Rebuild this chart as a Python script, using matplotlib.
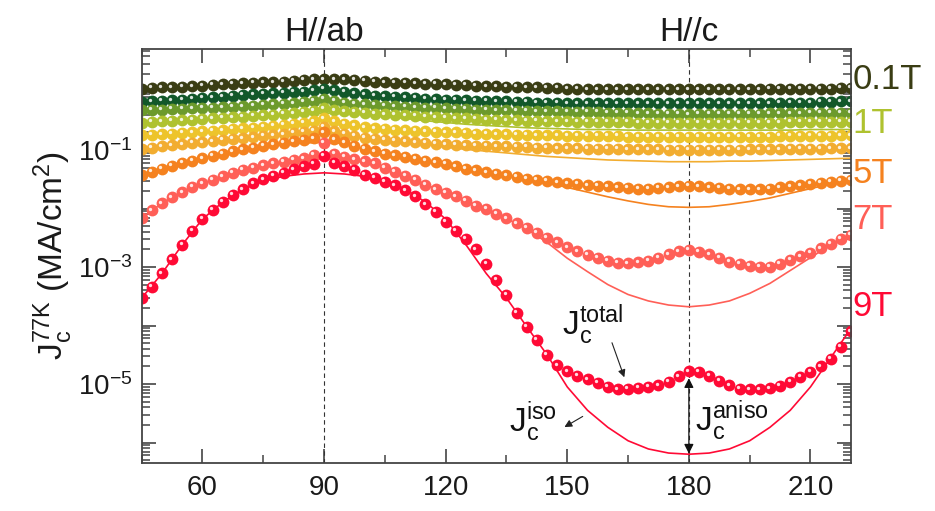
import numpy as np
import matplotlib
matplotlib.use("Agg")
import matplotlib.pyplot as plt
import matplotlib.transforms as mtransforms
from matplotlib.ticker import FixedLocator, FuncFormatter, NullFormatter

plt.rcParams['font.family'] = ['Liberation Sans', 'DejaVu Sans']
plt.rcParams['mathtext.fontset'] = 'custom'
plt.rcParams['mathtext.rm'] = 'Liberation Sans'
plt.rcParams['mathtext.it'] = 'Liberation Sans:italic'
plt.rcParams['mathtext.bf'] = 'Liberation Sans:bold'

# ---------------- data (log10 of Jc in MA/cm^2) ----------------
angles = np.arange(45, 220.1, 2.5)       # measured angles (deg), 71 points
fit_angles = np.arange(45, 220.1, 5.0)   # angles of the Jc_iso fit curves

fields = ['0.1T', '0.3T', '0.5T', '1T', '2T', '3T', '5T', '7T', '9T']
colors = ['#3a3d14', '#12582a', '#6c9a2c', '#afc22f', '#edc42b',
          '#f2ad30', '#f5821f', '#ff5f57', '#ff0a35']
shown_labels = {'0.1T': 0.20, '1T': -0.55, '5T': -1.40, '7T': -2.19, '9T': -3.68}

log_jc_01T = [0.05, 0.06, 0.07, 0.07, 0.08, 0.09, 0.10, 0.11, 0.12, 0.13, 0.14, 0.15, 0.16, 0.16, 0.17, 0.18, 0.20, 0.21,
              0.21, 0.21, 0.21, 0.20, 0.18, 0.17, 0.16, 0.15, 0.15, 0.14, 0.13, 0.13, 0.12,
              0.11, 0.11, 0.10, 0.09, 0.09, 0.08, 0.08, 0.07, 0.07, 0.06, 0.06, 0.05,
              0.05, 0.04, 0.04, 0.04, 0.04, 0.04, 0.04, 0.04, 0.04, 0.04, 0.04, 0.04,
              0.04, 0.04, 0.04, 0.04, 0.04, 0.04, 0.04, 0.05, 0.05, 0.05, 0.05, 0.05, 0.05, 0.05, 0.06, 0.06]
log_jc_03T = [-0.18, -0.17, -0.16, -0.15, -0.14, -0.12, -0.11, -0.10, -0.09, -0.07, -0.06, -0.05, -0.04, -0.03, -0.02, -0.01, 0.00, 0.02,
              0.05, 0.02, 0.00, -0.03, -0.05, -0.07, -0.08, -0.09, -0.10, -0.11, -0.12, -0.13, -0.14,
              -0.14, -0.15, -0.16, -0.16, -0.17, -0.17, -0.18, -0.18, -0.19, -0.19, -0.19, -0.20,
              -0.20, -0.20, -0.20, -0.20, -0.20, -0.20, -0.20, -0.20, -0.20, -0.20, -0.20, -0.20,
              -0.20, -0.20, -0.20, -0.20, -0.20, -0.20, -0.20, -0.20, -0.19, -0.19, -0.19, -0.19, -0.18, -0.18, -0.17, -0.17]
log_jc_05T = [-0.32, -0.31, -0.31, -0.30, -0.30, -0.29, -0.28, -0.28, -0.27, -0.26, -0.25, -0.24, -0.23, -0.22, -0.21, -0.20, -0.18, -0.16,
              -0.12, -0.16, -0.19, -0.21, -0.22, -0.23, -0.24, -0.25, -0.26, -0.27, -0.28, -0.28, -0.29,
              -0.30, -0.30, -0.31, -0.31, -0.32, -0.32, -0.33, -0.33, -0.34, -0.34, -0.34, -0.35,
              -0.35, -0.35, -0.35, -0.36, -0.36, -0.36, -0.37, -0.37, -0.38, -0.38, -0.38, -0.39,
              -0.38, -0.38, -0.38, -0.38, -0.38, -0.38, -0.38, -0.37, -0.37, -0.37, -0.37, -0.36, -0.36, -0.36, -0.36, -0.36]
log_jc_1T = [-0.53, -0.52, -0.51, -0.50, -0.49, -0.48, -0.47, -0.46, -0.45, -0.44, -0.43, -0.42, -0.41, -0.40, -0.38, -0.37, -0.35, -0.33,
             -0.29, -0.32, -0.34, -0.35, -0.36, -0.38, -0.39, -0.40, -0.41, -0.42, -0.43, -0.44, -0.45,
             -0.46, -0.46, -0.47, -0.48, -0.48, -0.49, -0.49, -0.50, -0.50, -0.51, -0.51, -0.51,
             -0.52, -0.52, -0.52, -0.52, -0.52, -0.52, -0.53, -0.53, -0.53, -0.53, -0.53, -0.53,
             -0.53, -0.53, -0.53, -0.53, -0.53, -0.53, -0.53, -0.53, -0.53, -0.52, -0.52, -0.52, -0.52, -0.52, -0.52, -0.52]
log_jc_2T = [-0.75, -0.74, -0.73, -0.72, -0.71, -0.70, -0.68, -0.67, -0.66, -0.64, -0.63, -0.62, -0.60, -0.59, -0.57, -0.55, -0.53, -0.51,
             -0.46, -0.51, -0.55, -0.58, -0.61, -0.63, -0.64, -0.65, -0.66, -0.67, -0.68, -0.69, -0.70,
             -0.70, -0.71, -0.72, -0.72, -0.73, -0.73, -0.74, -0.74, -0.75, -0.75, -0.75, -0.76,
             -0.76, -0.76, -0.76, -0.76, -0.76, -0.77, -0.77, -0.77, -0.77, -0.77, -0.77, -0.77,
             -0.77, -0.77, -0.77, -0.77, -0.77, -0.77, -0.77, -0.77, -0.76, -0.76, -0.76, -0.76, -0.76, -0.76, -0.75, -0.75]
log_jc_3T = [-0.98, -0.96, -0.94, -0.92, -0.90, -0.88, -0.87, -0.85, -0.83, -0.81, -0.80, -0.78, -0.76, -0.75, -0.73, -0.71, -0.69, -0.67,
             -0.60, -0.68, -0.72, -0.76, -0.79, -0.81, -0.83, -0.84, -0.85, -0.87, -0.88, -0.89, -0.90,
             -0.91, -0.92, -0.93, -0.93, -0.94, -0.94, -0.95, -0.95, -0.96, -0.96, -0.97, -0.97,
             -0.97, -0.98, -0.98, -0.98, -0.98, -0.99, -0.99, -0.99, -0.99, -1.00, -1.00, -1.00,
             -1.00, -1.00, -1.00, -1.00, -1.00, -0.99, -0.99, -0.99, -0.99, -0.98, -0.98, -0.98, -0.98, -0.97, -0.97, -0.97]
log_jc_5T = [-1.42, -1.37, -1.32, -1.27, -1.22, -1.18, -1.14, -1.10, -1.06, -1.02, -0.99, -0.96, -0.93, -0.90, -0.88, -0.85, -0.83, -0.80,
             -0.70, -0.82, -0.87, -0.93, -0.98, -1.02, -1.06, -1.09, -1.12, -1.15, -1.18, -1.21, -1.24,
             -1.28, -1.32, -1.35, -1.38, -1.41, -1.43, -1.46, -1.49, -1.51, -1.53, -1.55, -1.57,
             -1.58, -1.60, -1.61, -1.62, -1.64, -1.65, -1.66, -1.66, -1.65, -1.64, -1.62, -1.61,
             -1.62, -1.64, -1.65, -1.66, -1.67, -1.67, -1.67, -1.66, -1.64, -1.62, -1.60, -1.58, -1.56, -1.54, -1.53, -1.51]
log_jc_7T = [-2.16, -2.03, -1.91, -1.81, -1.72, -1.63, -1.57, -1.51, -1.45, -1.39, -1.34, -1.30, -1.26, -1.23, -1.20, -1.17, -1.14, -1.08,
             -0.88, -1.06, -1.12, -1.16, -1.19, -1.23, -1.30, -1.37, -1.44, -1.51, -1.59, -1.67, -1.73,
             -1.79, -1.87, -1.95, -2.01, -2.09, -2.17, -2.25, -2.33, -2.42, -2.50, -2.58, -2.66,
             -2.73, -2.79, -2.84, -2.89, -2.93, -2.94, -2.92, -2.89, -2.84, -2.78, -2.73, -2.71,
             -2.74, -2.78, -2.84, -2.91, -2.95, -2.98, -3.00, -3.00, -2.95, -2.88, -2.82, -2.76, -2.68, -2.60, -2.52, -2.45]
log_jc_9T = [-3.53, -3.34, -3.11, -2.87, -2.62, -2.38, -2.18, -2.02, -1.89, -1.77, -1.67, -1.57, -1.50, -1.44, -1.39, -1.33, -1.28, -1.24,
             -1.10, -1.22, -1.28, -1.34, -1.42, -1.48, -1.54, -1.60, -1.69, -1.79, -1.93, -2.06, -2.23,
             -2.38, -2.52, -2.70, -2.95, -3.22, -3.48, -3.78, -4.02, -4.24, -4.50, -4.68, -4.78,
             -4.86, -4.92, -4.98, -5.05, -5.09, -5.08, -5.06, -5.05, -5.02, -4.96, -4.87, -4.78,
             -4.79, -4.86, -4.94, -5.02, -5.08, -5.09, -5.09, -5.07, -5.03, -4.96, -4.88, -4.79, -4.70, -4.57, -4.36, -4.10]

# Jc_iso fits (solid lines), 36 points each
log_iso_1T = [-0.53, -0.51, -0.49, -0.47, -0.45, -0.43, -0.41, -0.39, -0.38, -0.37, -0.38, -0.40, -0.43, -0.46, -0.50, -0.53,
              -0.56, -0.58, -0.60, -0.62, -0.63, -0.64, -0.65, -0.65, -0.66, -0.66, -0.66, -0.66, -0.66, -0.66, -0.66, -0.66,
              -0.66, -0.65, -0.65, -0.65]
log_iso_3T = [-0.98, -0.94, -0.90, -0.87, -0.83, -0.80, -0.77, -0.75, -0.74, -0.73, -0.74, -0.79, -0.83, -0.86, -0.90, -0.95,
              -0.99, -1.02, -1.05, -1.08, -1.11, -1.13, -1.15, -1.17, -1.18, -1.19, -1.20, -1.20, -1.20, -1.19, -1.19, -1.18,
              -1.17, -1.16, -1.15, -1.14]
log_iso_5T = [-1.42, -1.32, -1.22, -1.14, -1.06, -0.99, -0.94, -0.90, -0.88, -0.87, -0.89, -0.98, -1.06, -1.12, -1.18, -1.24,
              -1.32, -1.38, -1.43, -1.50, -1.56, -1.64, -1.72, -1.80, -1.87, -1.93, -1.97, -1.98, -1.97, -1.93, -1.88, -1.82,
              -1.74, -1.66, -1.58, -1.51]
log_iso_7T = [-2.16, -1.91, -1.72, -1.57, -1.45, -1.35, -1.27, -1.21, -1.17, -1.15, -1.17, -1.21, -1.30, -1.44, -1.59, -1.73,
              -1.87, -2.01, -2.17, -2.35, -2.58, -2.85, -3.08, -3.30, -3.47, -3.58, -3.65, -3.68, -3.65, -3.58, -3.45, -3.28,
              -3.06, -2.84, -2.62, -2.45]
log_iso_9T = [-3.53, -3.11, -2.62, -2.18, -1.89, -1.67, -1.53, -1.45, -1.41, -1.39, -1.41, -1.45, -1.53, -1.67, -1.89, -2.18,
              -2.62, -3.11, -3.53, -4.02, -4.50, -5.05, -5.45, -5.74, -5.97, -6.11, -6.18, -6.20, -6.18, -6.11, -5.97, -5.74,
              -5.45, -5.05, -4.55, -4.05]

series = [log_jc_01T, log_jc_03T, log_jc_05T, log_jc_1T, log_jc_2T, log_jc_3T, log_jc_5T, log_jc_7T, log_jc_9T]
fits = {'1T': log_iso_1T, '3T': log_iso_3T, '5T': log_iso_5T, '7T': log_iso_7T, '9T': log_iso_9T}

# ---------------- figure ----------------
fig = plt.figure(figsize=(9.35, 5.11), dpi=100)
ax = fig.add_axes([141.7 / 935, (511 - 462.7) / 511, (851 - 141.7) / 935, (462.7 - 49) / 511])
ax.set_yscale('log')
ax.set_xlim(45, 220)
ax.set_ylim(10 ** -6.345, 10 ** 0.7265)

hl = mtransforms.offset_copy(ax.transData, fig=fig, x=-1.6, y=1.6, units='dots')
for k, (f, c, vals) in enumerate(zip(fields, colors, series)):
    z = 3 + k
    if f in fits:
        ax.plot(fit_angles, 10 ** np.array(fits[f]), '-', color=c, lw=1.2, zorder=z)
    ax.plot(angles, 10 ** np.array(vals), 'o', ms=8.5, color=c, mew=0, zorder=z + 0.2)
    ax.plot(angles, 10 ** np.array(vals), 'o', ms=2.4, color='white', mew=0, alpha=0.85,
            zorder=z + 0.3, transform=hl)

for xv in (90, 180):
    ax.axvline(xv, color='#333333', lw=0.8, ls=(0, (4, 3)), zorder=2)

# axes styling
for sp in ax.spines.values():
    sp.set_color('#444444')
    sp.set_linewidth(1.3)
    sp.set_zorder(30)
ax.xaxis.set_major_locator(FixedLocator([60, 90, 120, 150, 180, 210]))
ax.xaxis.set_minor_locator(FixedLocator([45, 75, 105, 135, 165, 195]))
decades = list(range(-7, 2))
ax.yaxis.set_major_locator(FixedLocator([10.0 ** e for e in decades]))
ax.yaxis.set_minor_locator(FixedLocator([m * 10.0 ** e for e in decades for m in range(2, 10)]))
ax.yaxis.set_minor_formatter(NullFormatter())


def yfmt(v, pos):
    e = int(round(np.log10(v)))
    if e in (-1, -3, -5):
        return r'$\mathregular{10^{%d}}$' % e
    return ''


ax.yaxis.set_major_formatter(FuncFormatter(yfmt))
ax.tick_params(which='both', direction='in', top=True, right=True, colors='#444444',
               labelcolor='#1a1a1a', labelsize=20)
ax.tick_params(which='major', length=10, width=1.2)
ax.tick_params(which='minor', length=5.5, width=1.1)
ax.tick_params(axis='x', pad=9)
ax.tick_params(axis='y', pad=7)

ax.set_ylabel(r'$\mathregular{J_c^{77K}}$ (MA/cm$\mathregular{^2}$)', fontsize=24, labelpad=2, color='#1a1a1a')

# top labels
tr_top = mtransforms.blended_transform_factory(ax.transData, ax.transAxes)
ax.text(90, 1.02, 'H//ab', transform=tr_top, ha='center', va='baseline', fontsize=24, color='#1a1a1a')
ax.text(180, 1.02, 'H//c', transform=tr_top, ha='center', va='baseline', fontsize=24, color='#1a1a1a')

# right-hand field labels
tr_right = mtransforms.blended_transform_factory(ax.transAxes, ax.transData)
for f, c in zip(fields, colors):
    if f in shown_labels:
        ax.text(1.002, 10 ** shown_labels[f], f, transform=tr_right, ha='left', va='center',
                fontsize=25, color=c)

# annotations
ax.text(148.8, 10 ** -3.98, r'$\mathregular{J_c^{total}}$', fontsize=24, ha='left', va='center', color='#111111')
ax.text(135.6, 10 ** -5.64, r'$\mathregular{J_c^{iso}}$', fontsize=24, ha='left', va='center', color='#111111')
ax.text(181.6, 10 ** -5.62, r'$\mathregular{J_c^{aniso}}$', fontsize=24, ha='left', va='center', color='#111111')
ax.annotate('', xy=(164.3, 10 ** -4.93), xytext=(160.8, 10 ** -4.25),
            arrowprops=dict(arrowstyle='-|>', color='#222222', lw=0.8, mutation_scale=11), zorder=20)
ax.annotate('', xy=(148.7, 10 ** -5.76), xytext=(154.4, 10 ** -5.53),
            arrowprops=dict(arrowstyle='-|>', color='#222222', lw=0.8, mutation_scale=11), zorder=20)
ax.annotate('', xy=(180, 10 ** -6.19), xytext=(180, 10 ** -4.90),
            arrowprops=dict(arrowstyle='<|-|>', color='#111111', lw=0.9, mutation_scale=14,
                            shrinkA=0, shrinkB=0), zorder=20)

fig.savefig('out.png', dpi=100)
